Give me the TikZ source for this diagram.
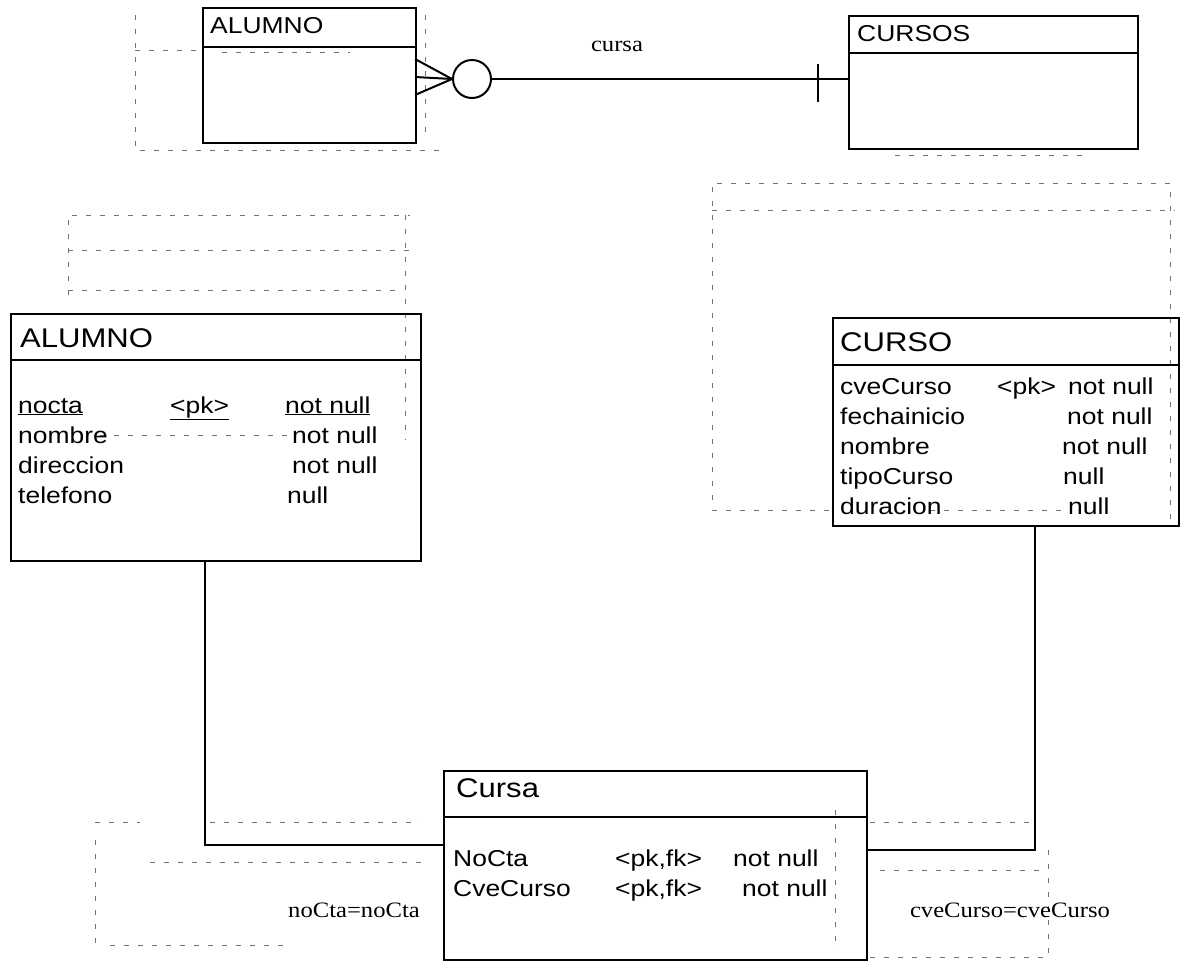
\documentclass[tikz,border=0pt]{standalone}
\usepackage{fontspec}
\setmainfont{Liberation Serif}
\newfontfamily\boxfont[FakeStretch=1.15]{Liberation Sans}
\newfontfamily\lblfont[FakeStretch=1.12]{Liberation Serif}
\usetikzlibrary{calc}
\tikzset{
  tbl/.style={draw, line width=2.2pt, inner sep=0pt, anchor=north west},
  hdr/.style={line width=2.2pt},
  conn/.style={line width=2pt},
  ghost/.style={black!55, line width=0.7pt, dash pattern=on 5pt off 9pt},
  ttlbig/.style={font=\boxfont\fontsize{27}{29}\selectfont, inner sep=0pt, anchor=base west},
  ttlsm/.style={font=\boxfont\fontsize{23}{25}\selectfont, inner sep=0pt, anchor=base west},
  rowtxt/.style={font=\boxfont\fontsize{23}{25}\selectfont, inner sep=0pt, anchor=base west},
  lbl/.style={font=\lblfont\fontsize{22}{24}\selectfont, inner sep=0pt},
}
\begin{document}
\begin{tikzpicture}[x=1pt,y=-1pt]
\fill[white] (0,0) rectangle (1182,962);
\useasboundingbox (0,0) rectangle (1182,962);

% ---------- ghost (show-through) marks ----------
\draw[ghost] (135,15) -- (135,150) -- (440,150);
\draw[ghost] (135,50) -- (200,50);
\draw[ghost] (222,52) -- (350,52);
\draw[ghost] (425,15) -- (425,140);
\draw[ghost] (895,155) -- (1090,155);
\draw[ghost] (68,295) -- (68,215) -- (410,215);
\draw[ghost] (68,250) -- (410,250);
\draw[ghost] (68,290) -- (400,290);
\draw[ghost] (405,215) -- (405,440);
\draw[ghost] (100,435) -- (290,435);
\draw[ghost] (712,500) -- (712,183) -- (1170,183) -- (1170,520);
\draw[ghost] (712,210) -- (1175,210);
\draw[ghost] (712,510) -- (832,510);
\draw[ghost] (930,510) -- (1062,510);
\draw[ghost] (95,822) -- (140,822);
\draw[ghost] (210,822) -- (420,822);
\draw[ghost] (150,862) -- (425,862);
\draw[ghost] (95,840) -- (95,945);
\draw[ghost] (110,945) -- (290,945);
\draw[ghost] (870,822) -- (1030,822);
\draw[ghost] (880,870) -- (1040,870);
\draw[ghost] (1048,850) -- (1048,957) -- (866,957);
\draw[ghost] (835,810) -- (835,950);

% ---------- top conceptual model ----------
\node[tbl, minimum width=213pt, minimum height=135pt] (aluA) at (202,7) {};
\draw[hdr] ([yshift=-40pt]aluA.north west) -- ([yshift=-40pt]aluA.north east);
\node[ttlsm] (aluAt) at (210,33) {ALUMNO};

\node[tbl, minimum width=289pt, minimum height=133pt] (cursA) at (848,15) {};
\draw[hdr] ([yshift=-38pt]cursA.north west) -- ([yshift=-38pt]cursA.north east);
\node[ttlsm] (cursAt) at (857,41) {CURSOS};

\node[draw, circle, line width=2pt, minimum size=38pt, inner sep=0pt] (circ) at (472,79) {};
\coordinate (cfa) at (415,59);
\coordinate (cfb) at (415,77);
\coordinate (cfc) at (415,95);
\draw[conn] (cfa) -- (circ.west);
\draw[conn] (cfb) -- (circ.west);
\draw[conn] (cfc) -- (circ.west);
\coordinate (cend) at (circ.east -| cursA.west);
\draw[conn] (circ.east) -- (cend);
\draw[conn] ($(cend)+(-30,-15)$) -- ($(cend)+(-30,23)$);
\node[lbl] (lcursa) at (617,46) {cursa};

% ---------- ALUMNO table ----------
\node[tbl, minimum width=410pt, minimum height=247pt] (aluB) at (10,313) {};
\draw[hdr] ([yshift=-47pt]aluB.north west) -- ([yshift=-47pt]aluB.north east);
\node[ttlbig] (aluBt) at (20,347) {ALUMNO};
\node[rowtxt] (a1) at (18,413) {\underline{nocta}};
\node[rowtxt] (a1k) at (170,413) {\underline{<pk>}};
\node[rowtxt] (a1n) at (285,413) {\underline{not null}};
\node[rowtxt] (a2) at (18,443) {nombre};
\node[rowtxt] (a2n) at (292,443) {not null};
\node[rowtxt] (a3) at (18,473) {direccion};
\node[rowtxt] (a3n) at (292,473) {not null};
\node[rowtxt] (a4) at (18,503) {telefono};
\node[rowtxt] (a4n) at (287,503) {null};

% ---------- CURSO table ----------
\node[tbl, minimum width=346pt, minimum height=208pt] (cursB) at (832,317) {};
\draw[hdr] ([yshift=-48pt]cursB.north west) -- ([yshift=-48pt]cursB.north east);
\node[ttlbig] (cursBt) at (840,351) {CURSO};
\node[rowtxt] (c1) at (840,394) {cveCurso};
\node[rowtxt] (c1k) at (997,394) {<pk>};
\node[rowtxt] (c1n) at (1068,394) {not null};
\node[rowtxt] (c2) at (840,424) {fechainicio};
\node[rowtxt] (c2n) at (1067,424) {not null};
\node[rowtxt] (c3) at (840,454) {nombre};
\node[rowtxt] (c3n) at (1062,454) {not null};
\node[rowtxt] (c4) at (840,484) {tipoCurso};
\node[rowtxt] (c4n) at (1063,484) {null};
\node[rowtxt] (c5) at (840,514) {duracion};
\node[rowtxt] (c5n) at (1068,514) {null};

% ---------- Cursa table ----------
\node[tbl, minimum width=423pt, minimum height=189pt] (cursaT) at (443,770) {};
\draw[hdr] ([yshift=-47pt]cursaT.north west) -- ([yshift=-47pt]cursaT.north east);
\node[ttlbig] (cursaTt) at (456,797) {Cursa};
\node[rowtxt] (r1) at (453,866) {NoCta};
\node[rowtxt] (r1k) at (615,866) {<pk,fk>};
\node[rowtxt] (r1n) at (733,866) {not null};
\node[rowtxt] (r2) at (453,896) {CveCurso};
\node[rowtxt] (r2k) at (615,896) {<pk,fk>};
\node[rowtxt] (r2n) at (742,896) {not null};

% ---------- references ----------
\draw[conn] ([xshift=195pt]aluB.south west) |- ([yshift=-75pt]cursaT.north west);
\draw[conn] ([xshift=-145pt]cursB.south east) |- ([yshift=-80pt]cursaT.north east);
\node[lbl] (lno) at (354,910) {noCta=noCta};
\node[lbl] (lcve) at (1010,910) {cveCurso=cveCurso};
\end{tikzpicture}
\end{document}
